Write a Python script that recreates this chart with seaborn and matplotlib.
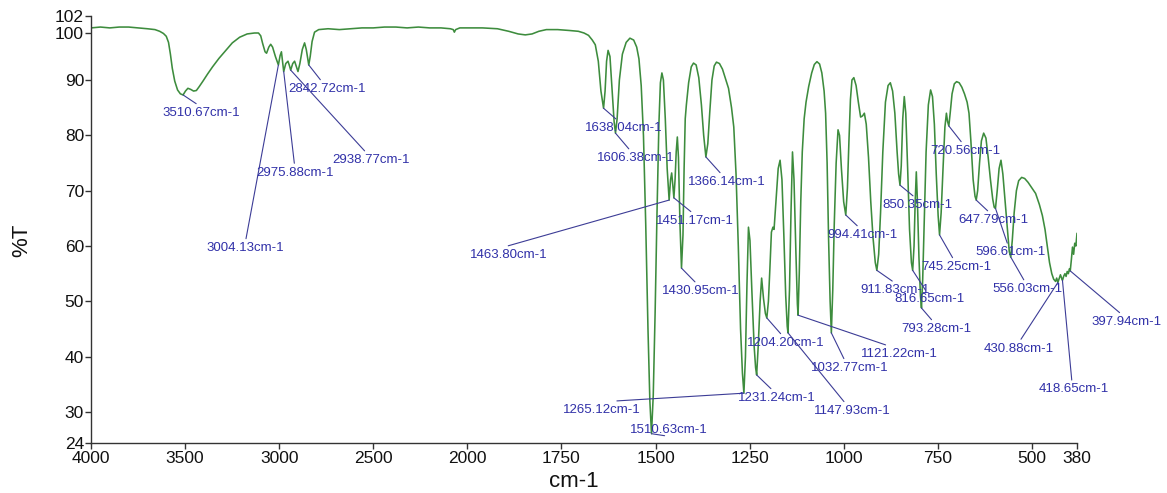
import numpy as np
import pandas as pd
import matplotlib
matplotlib.use("Agg")
import matplotlib.pyplot as plt
import seaborn as sns

# ---- spectrum (wavenumber in cm-1, transmittance in %T) ----
wavenumber = [
    4000, 3950, 3900, 3850, 3800, 3750, 3700, 3660, 3635, 3615, 3600, 3588, 3578, 3568,
    3555, 3540, 3525, 3510.67, 3498, 3485, 3470, 3455, 3440, 3425, 3405, 3380, 3354,
    3320, 3290, 3249, 3210, 3170, 3131, 3110, 3098, 3088, 3075, 3067, 3055, 3045, 3035,
    3020, 3004.13, 2995, 2988, 2982, 2975.88, 2965, 2953, 2945, 2938.77, 2928, 2918,
    2908, 2900, 2890, 2877, 2865, 2856, 2848, 2842.72, 2835, 2825, 2812, 2790, 2740,
    2680, 2620, 2560, 2500, 2440, 2380, 2320, 2260, 2200, 2140, 2090, 2075, 2069, 2062,
    2040, 2000, 1960, 1920, 1890, 1865, 1846, 1828, 1810, 1790, 1760, 1730, 1705, 1690,
    1678, 1668, 1660, 1652, 1645, 1638.04, 1634, 1630, 1626, 1621, 1615, 1610, 1606.38,
    1602, 1596, 1588, 1578, 1568, 1558, 1550, 1544, 1538, 1532, 1526, 1520, 1515,
    1510.63, 1506, 1501, 1496, 1491, 1487, 1483, 1479, 1474, 1469, 1463.80, 1460, 1457,
    1454, 1451.17, 1448, 1445, 1442, 1439, 1435, 1430.95, 1427, 1424, 1421, 1418, 1412,
    1405, 1399, 1392, 1385, 1378, 1372, 1366.14, 1361, 1356, 1350, 1344, 1338, 1330,
    1322, 1314, 1306, 1298, 1292, 1286, 1280, 1274, 1269, 1265.12, 1261, 1257, 1253,
    1249, 1244, 1238, 1234, 1231.24, 1227, 1222, 1218, 1213, 1208, 1204.20, 1200, 1196,
    1192, 1188, 1185, 1180, 1174, 1169, 1164, 1159, 1154, 1150, 1147.93, 1144, 1140,
    1136, 1132, 1127, 1123, 1121.22, 1118, 1114, 1110, 1105, 1100, 1093, 1085, 1078,
    1071, 1064, 1058, 1052, 1048, 1044, 1040, 1036, 1032.77, 1029, 1025, 1020, 1015,
    1011, 1006, 1000, 994.41, 990, 986, 982, 978, 973, 967, 961, 955, 950, 945, 940, 934,
    928, 922, 916, 911.83, 907, 902, 896, 889, 882, 876, 870, 864, 858, 854, 850.35, 847,
    843, 839, 835, 830, 825, 820, 816.65, 813, 810, 807, 804, 800, 796, 793.28, 790, 786,
    781, 775, 769, 764, 759, 754, 749, 745.25, 741, 736, 731, 727, 724, 720.56, 717, 712,
    706, 700, 693, 686, 679, 672, 667, 662, 656, 651, 647.79, 644, 639, 634, 628, 622,
    616, 610, 604, 600, 596.61, 592, 587, 582, 577, 571, 565, 560, 556.03, 552, 547, 541,
    535, 527, 519, 510, 500, 490, 480, 472, 465, 459, 453, 447, 442, 437, 434, 430.88,
    427, 424, 421, 418.65, 415, 412, 409, 406, 403, 400, 397.94, 395, 392, 389, 386, 383,
    380,
]
transmittance = [
    100.6, 100.7, 100.6, 100.7, 100.7, 100.6, 100.5, 100.4, 100.2, 99.9, 99.3, 98.0, 95.5, 92.5,
    89.8, 88.2, 87.5, 87.3, 88.0, 88.5, 88.3, 88.0, 88.1, 88.8, 89.8, 91.3, 92.8,
    94.6, 96.0, 97.9, 99.1, 99.8, 100.0, 100.0, 99.4, 97.8, 96.0, 95.7, 97.0, 97.6, 97.0,
    95.0, 93.2, 95.2, 96.0, 94.0, 91.8, 93.5, 94.0, 93.0, 92.1, 93.5, 94.0,
    92.8, 91.8, 93.5, 96.5, 97.9, 96.5, 94.5, 93.2, 95.0, 98.2, 100.1, 100.4, 100.5,
    100.4, 100.5, 100.6, 100.6, 100.7, 100.7, 100.6, 100.7, 100.6, 100.6, 100.5, 100.4, 100.1, 100.4,
    100.6, 100.6, 100.6, 100.5, 100.2, 99.8, 99.6, 99.8, 100.2, 100.4, 100.4, 100.3, 100.2, 100.0,
    99.5, 98.5, 97.5, 94.0, 88.0, 84.9, 88.0, 94.0, 96.3, 95.0, 88.0, 82.5, 80.4,
    83.0, 90.0, 95.5, 98.0, 98.9, 98.5, 97.0, 94.5, 89.0, 80.0, 64.0, 45.0, 32.0,
    25.8, 33.0, 48.0, 66.0, 82.0, 89.5, 91.5, 90.0, 83.0, 74.0, 68.3, 72.0, 73.2,
    71.0, 68.7, 72.0, 77.0, 79.7, 76.0, 64.0, 56.0, 62.0, 74.0, 83.0, 85.5, 89.5,
    92.8, 93.6, 93.2, 90.5, 85.5, 80.0, 76.1, 78.5, 84.0, 90.0, 93.0, 93.8, 93.5,
    92.3, 90.3, 88.5, 85.0, 81.5, 73.0, 60.0, 45.0, 37.0, 33.4, 40.0, 53.0, 63.4,
    61.0, 52.0, 42.0, 38.0, 36.7, 42.0, 50.0, 54.2, 50.5, 47.8, 47.0, 50.0, 56.0,
    62.5, 63.4, 63.0, 68.0, 74.0, 75.5, 72.0, 62.0, 51.0, 45.5, 44.3, 52.0, 66.0,
    77.0, 72.0, 59.0, 49.5, 47.5, 55.0, 68.0, 77.0, 83.0, 86.0, 88.8, 91.5, 93.3,
    93.9, 93.4, 91.5, 88.0, 84.0, 75.0, 61.0, 50.0, 44.3, 52.0, 64.0, 75.0, 81.0,
    80.0, 74.0, 68.0, 65.6, 70.5, 79.0, 86.5, 90.0, 90.5, 89.0, 86.0, 83.3, 83.5, 84.0, 82.0, 76.0,
    68.0, 61.5, 57.0, 55.6, 58.5, 66.0, 77.0, 86.0, 89.0, 89.5, 88.0, 84.0, 77.0, 73.0, 71.0, 74.5,
    83.0, 87.0, 84.0, 74.0, 63.0, 57.0, 55.6, 60.0, 68.0, 73.4, 68.0, 58.0, 51.0, 48.8, 54.0, 64.0,
    77.0, 85.5, 88.2, 87.0, 82.0, 73.0, 65.5, 62.0, 66.0, 74.0, 81.5, 84.0, 82.5, 81.7, 84.0, 87.5,
    89.3, 89.7, 89.5, 88.7, 87.5, 86.0, 84.0, 79.0, 72.0, 69.0, 68.3, 70.0, 75.0, 79.0, 80.4, 79.5,
    76.0, 72.0, 68.5, 67.0, 66.8, 70.0, 74.0, 75.5, 73.0, 68.0, 63.0, 59.0, 58.0, 61.0, 66.0, 70.0,
    71.8, 72.4, 72.2, 71.5, 70.5, 69.5, 67.5, 65.5, 63.0, 60.0, 57.0, 55.0, 54.0, 53.6, 54.2, 53.4,
    54.2, 54.8, 54.2, 53.8, 54.6, 55.0, 54.5, 55.4, 55.0, 55.9, 55.5, 57.5, 59.8, 58.5, 60.5, 60.0,
    62.3,
]

# ---- labelled peak positions (cm-1) ----
peak_positions = [
    3510.67, 3004.13, 2975.88, 2938.77, 2842.72, 1638.04, 1606.38, 1510.63, 1463.80,
    1451.17, 1430.95, 1366.14, 1265.12, 1231.24, 1204.20, 1147.93, 1121.22, 1032.77,
    994.41, 911.83, 850.35, 816.65, 793.28, 745.25, 720.56, 647.79, 596.61, 556.03,
    430.88, 418.65, 397.94,
]

# ---- axis ticks ----
x_ticks = [4000, 3500, 3000, 2500, 2000, 1750, 1500, 1250, 1000, 750, 500, 380]
y_ticks = [24, 30, 40, 50, 60, 70, 80, 90, 100, 102]

# label placement: (dx px, dy px downward, vertical anchor, leader attach x on text)
label_layout = {
    3510.67: (18, 12, "top", 0.5),
    3004.13: (-33, 177, "top", 0.5),
    2975.88: (11, 95, "top", 0.5),
    2938.77: (80, 84, "top", 0.46),
    2842.72: (18, 18, "top", 0.45),
    1638.04: (20, 14, "top", 0.45),
    1606.38: (20, 19, "top", 0.45),
    1510.63: (17, 2, "bottom", 0.45),
    1463.80: (-160, 49, "top", 0.34),
    1451.17: (21, 17, "top", 0.5),
    1430.95: (19, 17, "top", 0.47),
    1366.14: (21, 19, "top", 0.45),
    1265.12: (-142, 11, "top", 0.0),
    1231.24: (20, 17, "top", 0.47),
    1204.20: (19, 19, "top", 0.47),
    1147.93: (64, 72, "top", 0.43),
    1121.22: (101, 33, "top", 0.45),
    1032.77: (18, 29, "top", 0.45),
    994.41: (17, 14, "top", 0.47),
    911.83: (18, 14, "top", 0.53),
    850.35: (17, 14, "top", 0.5),
    816.65: (17, 23, "top", 0.47),
    793.28: (15, 15, "top", 0.47),
    745.25: (17, 26, "top", 0.47),
    720.56: (17, 19, "top", 0.47),
    647.79: (17, 14, "top", 0.47),
    596.61: (15, 38, "top", 0.47),
    556.03: (17, 26, "top", 0.47),
    430.88: (-39, 60, "top", 0.5),
    418.65: (11, 103, "top", 0.48),
    397.94: (56, 45, "top", 0.46),
}

sns.set_theme(style="ticks")
plt.rcParams["font.family"] = ["Liberation Sans", "DejaVu Sans"]

LINE_GREEN = "#3d8c3d"
LABEL_BLUE = "#3030a8"
LEADER_BLUE = "#3c3c96"
AXIS_GREY = "#333333"


# x axis: the region above 2000 cm-1 is drawn at half the scale of the region below
def x_forward(w):
    w = np.asarray(w, dtype=float)
    return np.where(w > 2000, 2000 + (w - 2000) / 2.0, w)


def x_inverse(u):
    u = np.asarray(u, dtype=float)
    return np.where(u > 2000, 2000 + (u - 2000) * 2.0, u)


# y axis: piecewise linear scale of the instrument's %T axis
_t_knots = np.array([-1000.0, 24.0, 30.0, 90.0, 100.0, 102.0, 1000.0])
_u_core = np.array([0.0, 31.0, 363.0, 410.0, 427.0])
_u_knots = np.concatenate((
    [_u_core[0] - (24.0 + 1000.0) * 31.0 / 6.0],
    _u_core,
    [_u_core[-1] + (1000.0 - 102.0) * 17.0 / 2.0],
))


def y_forward(t):
    return np.interp(np.asarray(t, dtype=float), _t_knots, _u_knots)


def y_inverse(u):
    return np.interp(np.asarray(u, dtype=float), _u_knots, _t_knots)


df = pd.DataFrame({"wavenumber": wavenumber, "T": transmittance})

fig = plt.figure(figsize=(11.67, 4.93), dpi=100)
ax = fig.add_axes([91 / 1167, 1 - 443 / 493, 986 / 1167, 427 / 493])

ax.set_xscale("function", functions=(x_forward, x_inverse))
ax.set_yscale("function", functions=(y_forward, y_inverse))

sns.lineplot(data=df, x="wavenumber", y="T", sort=False, estimator=None,
             color=LINE_GREEN, linewidth=1.15, ax=ax)

ax.set_xlim(4000, 380)
ax.set_ylim(24, 102)
ax.set_xticks(x_ticks)
ax.set_xticklabels([str(v) for v in x_ticks])
ax.set_yticks(y_ticks)
ax.set_yticklabels([str(v) for v in y_ticks])
ax.minorticks_off()

for side in ("top", "right"):
    ax.spines[side].set_visible(False)
for side in ("left", "bottom"):
    ax.spines[side].set_color(AXIS_GREY)
    ax.spines[side].set_linewidth(1.0)
ax.tick_params(axis="both", colors=AXIS_GREY, labelcolor="#111111",
               labelsize=12.5, length=4, width=1.0)
ax.tick_params(axis="y", pad=1)
ax.tick_params(axis="x", pad=2)

ax.set_xlabel("cm-1", fontsize=16, color="#111111")
ax.set_ylabel("%T", fontsize=16, color="#111111")
ax.xaxis.set_label_coords(0.49, -0.066)
ax.yaxis.set_label_coords(-0.06, 0.475)

# peak labels with leader lines
wn_sorted = np.array(wavenumber)[::-1]
t_sorted = np.array(transmittance)[::-1]
for pos in peak_positions:
    dx, dy, va, relx = label_layout[pos]
    t_peak = float(np.interp(pos, wn_sorted, t_sorted))
    rely = 1.0 if va == "top" else 0.0
    ax.annotate(
        f"{pos:.2f}cm-1",
        xy=(pos, t_peak), xycoords="data",
        xytext=(dx, -dy), textcoords="offset pixels",
        ha="center", va=va, fontsize=9.5, color=LABEL_BLUE,
        arrowprops=dict(arrowstyle="-", color=LEADER_BLUE, lw=0.8,
                        shrinkA=0, shrinkB=0, relpos=(relx, rely)),
        annotation_clip=False,
    )

fig.savefig("out.png", dpi=100)
